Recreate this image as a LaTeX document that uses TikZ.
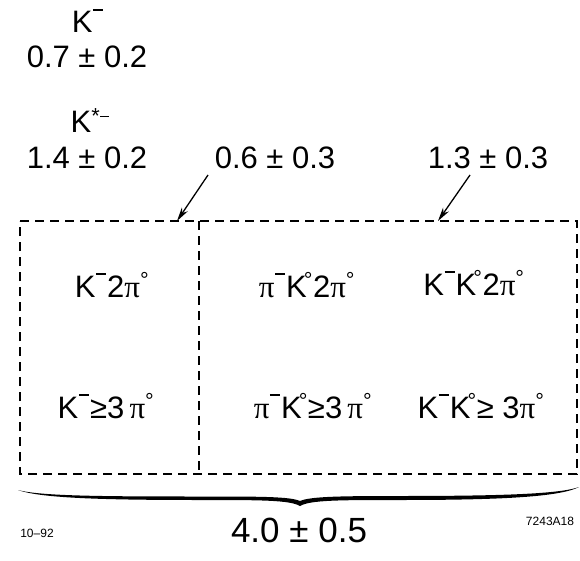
\documentclass[tikz,border=0pt]{standalone}
\usepackage{fontspec}
\setmainfont{Liberation Sans}
\newfontfamily\grk{Liberation Serif}
\usetikzlibrary{arrows.meta}
\newcommand{\smin}{\kern0.5pt\rule[0.7em]{0.33em}{0.065em}\kern1pt}
\newcommand{\dg}{\textsuperscript{°}}
\newcommand{\ppi}{{\grk π}}
\tikzset{
  lbl/.style={inner sep=0pt, anchor=base, font=\fontsize{31}{32}\selectfont},
  big/.style={inner sep=0pt, anchor=base, font=\fontsize{35}{36}\selectfont},
  tiny/.style={inner sep=0pt, anchor=base, font=\fontsize{12}{13}\selectfont},
  dbox/.style={line width=1.5pt, dash pattern=on 9pt off 6pt},
  pointer/.style={line width=1.3pt, -{Stealth[length=14pt,width=7pt]}},
}
\begin{document}
\begin{tikzpicture}[x=1pt,y=-1pt]
\useasboundingbox (0,0) rectangle (580,561);
\node[lbl] (km) at (88,33) {K\smin};
\node[lbl] (kmv) at (87,68) {0.7 ± 0.2};
\node[lbl] (ks) at (90,133) {K\textsuperscript{*\kern0.5pt\rule[0.3em]{0.4em}{0.09em}}};
\node[lbl] (ksv) at (87,169) {1.4 ± 0.2};
\node[lbl] (a) at (275,169) {0.6 ± 0.3};
\node[lbl] (b) at (488,169) {1.3 ± 0.3};
% boxes
\coordinate (tl) at (20,221);
\coordinate (tm) at (199,221);
\coordinate (tr) at (577,221);
\coordinate (bl) at (20,474);
\coordinate (bm) at (199,474);
\coordinate (br) at (577,474);
\draw[dbox] (tl) -- (tr) -- (br) -- (bl) -- cycle;
\draw[dbox] (tm) -- (bm);
\coordinate (ta) at (177,221);
\coordinate (tb) at (438,221);
\coordinate (sa) at (208,175);
\coordinate (sb) at (470,175);
\draw[pointer] (sa) -- (ta);
\draw[pointer] (sb) -- (tb);
% contents
\node[lbl] (c1) at (112,297) {K\smin2\ppi\dg};
\node[lbl] (c2) at (106,418) {K\smin≥3\,\ppi\dg};
\node[lbl] (c3) at (307,297) {\ppi\smin K\kern-3pt\dg2\ppi\dg};
\node[lbl] (c4) at (474,295) {K\smin K\kern-3pt\dg2\ppi\dg};
\node[lbl] (c5) at (313,418) {\ppi\smin K\kern-3pt\dg≥3\,\ppi\dg};
\node[lbl] (c6) at (481,418) {K\smin K\kern-3pt\dg≥ 3\ppi\dg};
% brace (calligraphic, pointing down)
\coordinate (bra) at (18,490);
\coordinate (brt) at (300,506);
\coordinate (brb) at (579,487);
\fill (bra) .. controls (40,498) and (100,500) .. (200,500)
  .. controls (260,500) and (290,500) .. (brt)
  .. controls (310,500) and (340,500) .. (400,500)
  .. controls (500,500) and (560,497) .. (brb)
  .. controls (560,494) and (500,496) .. (400,496)
  .. controls (340,496) and (310,496.5) .. (300,501)
  .. controls (290,496.5) and (260,496.5) .. (200,496.5)
  .. controls (100,496.5) and (40,496) .. (bra) -- cycle;
\node[big] (tot) at (299,542) {4.0 ± 0.5};
\node[tiny] (d) at (37,537) {10–92};
\node[tiny] (id) at (550,525) {7243A18};
\end{tikzpicture}
\end{document}
